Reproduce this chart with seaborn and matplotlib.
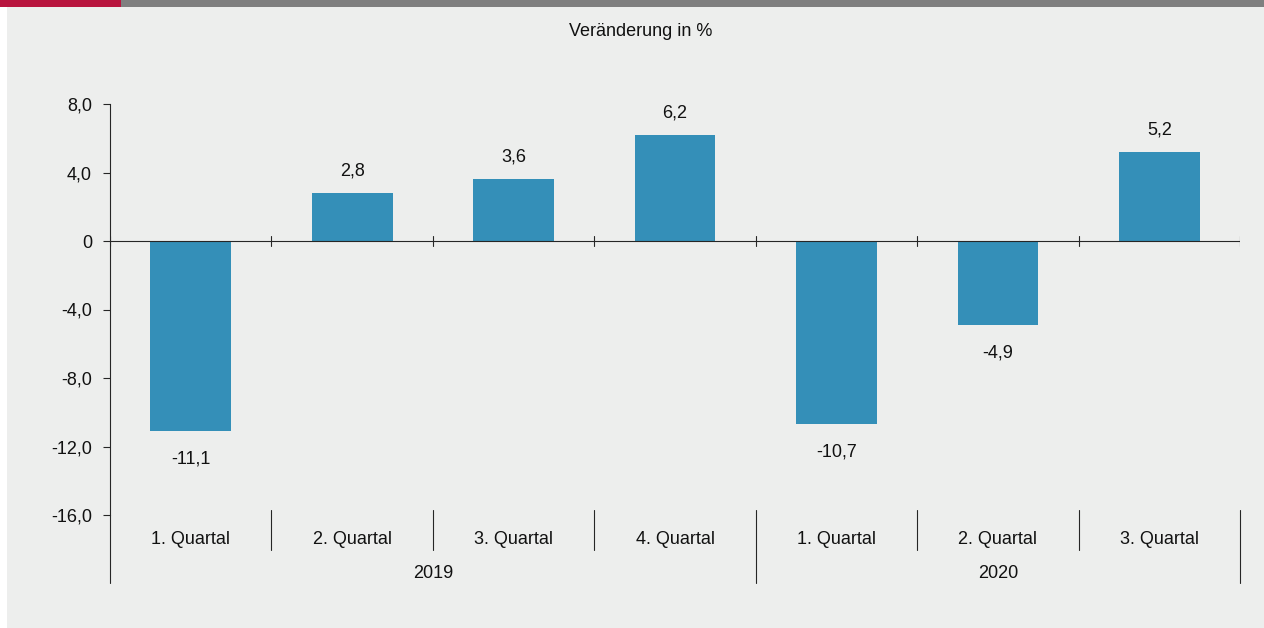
import matplotlib
matplotlib.use("Agg")
import matplotlib.pyplot as plt
import matplotlib.transforms as mtransforms
from matplotlib.patches import Rectangle
import pandas as pd
import seaborn as sns

quarters = ["1. Quartal", "2. Quartal", "3. Quartal", "4. Quartal",
            "1. Quartal", "2. Quartal", "3. Quartal"]
years = ["2019", "2019", "2019", "2019", "2020", "2020", "2020"]
values = [-11.1, 2.8, 3.6, 6.2, -10.7, -4.9, 5.2]
yticks = [8, 4, 0, -4, -8, -12, -16]
ytick_labels = ["8,0", "4,0", "0", "-4,0", "-8,0", "-12,0", "-16,0"]

df = pd.DataFrame({"pos": [str(i) for i in range(len(values))], "wert": values})

sns.set_theme(style="ticks")
plt.rcParams["font.family"] = ["Liberation Sans", "DejaVu Sans"]

bg = "#EDEEED"
line_col = "#262626"
bar_col = "#348FB8"
txt_col = "#111111"
fs = 13

fig = plt.figure(figsize=(12.64, 6.28), dpi=100, facecolor="white")
W, H = 1264, 628

# background panel and top strip
fig.patches.append(Rectangle((7 / W, 0), 1 - 7 / W, 1 - 7 / H, transform=fig.transFigure,
                             facecolor=bg, edgecolor="none", zorder=-10))
fig.patches.append(Rectangle((0, 1 - 7 / H), 121 / W, 7 / H, transform=fig.transFigure,
                             facecolor="#B8143E", edgecolor="none", zorder=-10))
fig.patches.append(Rectangle((121 / W, 1 - 7 / H), 1 - 121 / W, 7 / H, transform=fig.transFigure,
                             facecolor="#7F7F7F", edgecolor="none", zorder=-10))

ax = fig.add_axes([110 / W, 1 - 515 / H, (1240 - 110) / W, (515 - 104) / H])
ax.set_facecolor("none")

sns.barplot(data=df, x="pos", y="wert", color=bar_col, width=0.5, saturation=1,
            linewidth=0, ax=ax, zorder=2)

ax.set_xlim(-0.5, len(values) - 0.5)
ax.set_ylim(-16, 8)
ax.set_yticks(yticks)
ax.set_yticklabels(ytick_labels, fontsize=fs, color=txt_col)
ax.tick_params(axis="y", direction="out", length=5, width=0.8, color=line_col, pad=8)
ax.set_xticks([])
ax.set_xlabel("")
ax.set_ylabel("")
for s in ["top", "right", "bottom"]:
    ax.spines[s].set_visible(False)
ax.spines["left"].set_color(line_col)
ax.spines["left"].set_linewidth(0.8)

# zero line with boundary ticks
ax.axhline(0, color=line_col, lw=0.8, zorder=3)
for b in range(len(values) + 1):
    ax.plot([b - 0.5, b - 0.5], [-0.3, 0.3], color=line_col, lw=0.8, zorder=3)

# value labels
for i, v in enumerate(values):
    lbl = f"{v:.1f}".replace(".", ",")
    off = 22 if v > 0 else -28
    ax.annotate(lbl, (i, v), xytext=(0, off), textcoords="offset pixels",
                ha="center", va="center", fontsize=fs, color=txt_col)

# category axis (quarters and years)
trans = mtransforms.blended_transform_factory(ax.transData, ax.transAxes)
ax_h = 515 - 104
def yfrac(px):
    return (515 - px) / ax_h

ax.plot([-0.5, -0.5], [0, yfrac(583)], transform=trans, color=line_col, lw=0.8, clip_on=False)
for b in range(1, len(values) + 1):
    x = b - 0.5
    bottom = 583 if (b == len(values) or years[b] != years[b - 1]) else 550
    ax.plot([x, x], [yfrac(510), yfrac(bottom)], transform=trans, color=line_col,
            lw=0.8, clip_on=False)

for i, q in enumerate(quarters):
    ax.text(i, yfrac(540), q, transform=trans, ha="center", va="center",
            fontsize=fs, color=txt_col)

for yr in dict.fromkeys(years):
    idx = [i for i, y in enumerate(years) if y == yr]
    ax.text((idx[0] + idx[-1]) / 2, yfrac(574), yr, transform=trans, ha="center",
            va="center", fontsize=fs, color=txt_col)

fig.text(641 / W, 1 - 32 / H, "Veränderung in %", ha="center", va="center",
         fontsize=fs, color=txt_col)

fig.savefig("out.png", dpi=100, facecolor=fig.get_facecolor())
